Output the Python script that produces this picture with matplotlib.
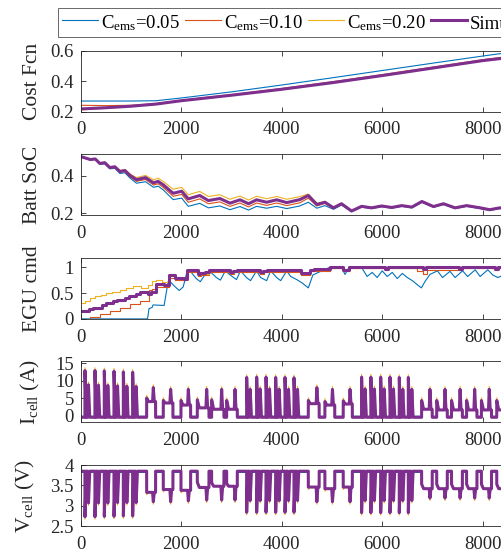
import matplotlib
matplotlib.use("Agg")
import matplotlib.pyplot as plt
from matplotlib.lines import Line2D

plt.rcParams["font.family"] = "Liberation Serif"
plt.rcParams["mathtext.fontset"] = "custom"
plt.rcParams["mathtext.rm"] = "Liberation Serif"
plt.rcParams["mathtext.it"] = "Liberation Serif:italic"

# series: blue, red, yellow, simulation
labels = [r"C$_{\rm ems}$=0.05", r"C$_{\rm ems}$=0.10", r"C$_{\rm ems}$=0.20", "Simulation"]
colors = ["#0072BD", "#D95319", "#EDB120", "#7E2F8E"]

# cost function
cost_t = [0, 500, 1000, 1500, 2000, 3000, 4000, 5000, 6000, 7000, 8000, 8600]
cost_b = [0.27, 0.27, 0.27, 0.272, 0.29, 0.33, 0.375, 0.422, 0.47, 0.518, 0.565, 0.592]
cost_r = [0.242, 0.24, 0.242, 0.253, 0.275, 0.312, 0.352, 0.396, 0.443, 0.492, 0.541, 0.566]
cost_y = [0.212, 0.222, 0.234, 0.25, 0.272, 0.307, 0.346, 0.389, 0.436, 0.485, 0.534, 0.557]
cost_s = [0.218, 0.226, 0.236, 0.25, 0.272, 0.308, 0.347, 0.39, 0.437, 0.486, 0.535, 0.558]

# battery state of charge
soc_t = [0, 190, 290, 380, 480, 580, 680, 780, 880, 980,
         1110, 1290, 1450, 1540, 1640, 1840, 2010, 2140, 2370, 2540,
         2770, 2970, 3170, 3340, 3500, 3700, 3900, 4100, 4360, 4530,
         4700, 4860, 5030, 5190, 5390, 5590, 5790, 5990, 6190, 6390,
         6590, 6790, 7020, 7220, 7450, 7680, 7950, 8140, 8340, 8600]
soc_s = [0.503, 0.487, 0.49, 0.466, 0.47, 0.444, 0.448, 0.423, 0.428, 0.402,
         0.379, 0.39, 0.362, 0.37, 0.352, 0.306, 0.317, 0.276, 0.294, 0.267,
         0.278, 0.253, 0.271, 0.25, 0.271, 0.258, 0.271, 0.256, 0.272, 0.294,
         0.246, 0.258, 0.228, 0.25, 0.211, 0.236, 0.228, 0.238, 0.23, 0.24,
         0.232, 0.262, 0.235, 0.25, 0.228, 0.24, 0.228, 0.218, 0.228, 0.222]
soc_y = [0.503, 0.488, 0.491, 0.468, 0.472, 0.447, 0.451, 0.428, 0.433, 0.41,
         0.39, 0.402, 0.378, 0.387, 0.37, 0.328, 0.338, 0.298, 0.316, 0.289,
         0.298, 0.274, 0.291, 0.27, 0.29, 0.277, 0.289, 0.274, 0.288, 0.302,
         0.252, 0.262, 0.23, 0.252, 0.212, 0.237, 0.229, 0.239, 0.231, 0.241,
         0.233, 0.263, 0.236, 0.251, 0.229, 0.241, 0.229, 0.219, 0.229, 0.223]
soc_r = [0.503, 0.486, 0.489, 0.464, 0.468, 0.441, 0.445, 0.418, 0.423, 0.395,
         0.37, 0.38, 0.35, 0.357, 0.338, 0.29, 0.30, 0.258, 0.276, 0.25,
         0.26, 0.236, 0.254, 0.233, 0.254, 0.241, 0.254, 0.24, 0.255, 0.28,
         0.238, 0.252, 0.225, 0.247, 0.209, 0.234, 0.226, 0.236, 0.228, 0.238,
         0.23, 0.26, 0.233, 0.248, 0.226, 0.238, 0.226, 0.216, 0.226, 0.22]
soc_b = [0.503, 0.485, 0.487, 0.461, 0.464, 0.437, 0.44, 0.412, 0.416, 0.388,
         0.36, 0.368, 0.338, 0.344, 0.325, 0.272, 0.28, 0.236, 0.252, 0.228,
         0.238, 0.218, 0.235, 0.216, 0.236, 0.226, 0.236, 0.224, 0.238, 0.258,
         0.226, 0.24, 0.22, 0.243, 0.207, 0.232, 0.224, 0.234, 0.226, 0.236,
         0.228, 0.258, 0.231, 0.246, 0.224, 0.236, 0.224, 0.214, 0.224, 0.218]

# EGU command (staircase, except blue)
egu_s_t = [0, 160, 240, 420, 500, 650, 720, 880, 960, 1100,
           1180, 1330, 1400, 1500, 1660, 1760, 1880, 2060, 2120, 2330,
           2380, 2470, 2560, 2980, 3040, 3120, 3560, 3620, 3700, 4380,
           4560, 4640, 4960, 5220, 5330, 6050, 6110, 6820, 6880, 7520,
           7580, 8240, 8300, 8600]
egu_s = [0.16, 0.19, 0.22, 0.26, 0.30, 0.34, 0.37, 0.41, 0.45, 0.49,
         0.52, 0.48, 0.53, 0.68, 0.66, 0.84, 0.79, 0.78, 0.94, 0.86,
         0.88, 0.91, 0.94, 0.90, 0.92, 0.94, 0.91, 0.93, 0.94, 0.89,
         0.95, 0.97, 1.0, 0.94, 1.0, 0.97, 1.0, 0.97, 1.0, 0.97,
         1.0, 0.97, 1.0, 1.0]
egu_y_t = [0, 90, 190, 290, 400, 500, 620, 780, 900, 1050,
           1200, 1330, 1420, 1500, 1620, 1760, 1880, 2000, 2120, 2330,
           2400, 2560, 2980, 3060, 3560, 3640, 4380, 4560, 4960, 5220,
           5330, 6050, 6110, 6820, 6880, 7520, 7580, 8240, 8300, 8600]
egu_y = [0.30, 0.35, 0.40, 0.44, 0.47, 0.50, 0.53, 0.56, 0.60, 0.63,
         0.60, 0.66, 0.74, 0.76, 0.72, 0.86, 0.82, 0.80, 0.93, 0.85,
         0.87, 0.93, 0.89, 0.93, 0.90, 0.93, 0.88, 0.94, 0.99, 0.93,
         0.99, 0.96, 0.99, 0.96, 0.99, 0.96, 0.99, 0.96, 0.99, 0.99]
egu_r_t = [0, 190, 380, 580, 780, 980, 1180, 1350, 1420, 1500,
           1620, 1760, 1880, 2000, 2120, 2330, 2400, 2560, 2980, 3060,
           3560, 3640, 4380, 4560, 4960, 5220, 5330, 6050, 6110, 6700,
           6820, 6900, 7520, 7580, 8240, 8300, 8600]
egu_r = [0.0, 0.04, 0.10, 0.16, 0.22, 0.28, 0.34, 0.55, 0.58, 0.62,
         0.62, 0.80, 0.76, 0.75, 0.91, 0.83, 0.85, 0.91, 0.86, 0.90,
         0.87, 0.90, 0.85, 0.93, 0.98, 0.92, 0.98, 0.94, 0.98, 0.92,
         0.86, 0.94, 0.95, 0.98, 0.95, 0.98, 0.98]
egu_b_t = [0, 1330, 1360, 1420, 1440, 1660, 1740, 1800, 1880, 1960,
           2040, 2120, 2200, 2300, 2380, 2470, 2560, 2700, 2780, 2880,
           2960, 3100, 3180, 3300, 3380, 3500, 3580, 3700, 3780, 3900,
           3980, 4100, 4180, 4300, 4400, 4530, 4620, 4800, 4960, 5200,
           5260, 5340, 5600, 5700, 5800, 5900, 6000, 6100, 6200, 6300,
           6400, 6500, 6600, 6700, 6780, 6850, 6950, 7100, 7200, 7350,
           7450, 7600, 7700, 7850, 7950, 8100, 8200, 8300, 8600]
egu_b = [0.0, 0.0, 0.2, 0.22, 0.27, 0.26, 0.72, 0.70, 0.62, 0.55,
         0.62, 0.93, 0.90, 0.78, 0.72, 0.85, 0.93, 0.80, 0.75, 0.93,
         0.86, 0.76, 0.93, 0.80, 0.74, 0.93, 0.80, 0.74, 0.93, 0.80,
         0.74, 0.93, 0.82, 0.76, 0.70, 0.60, 0.85, 0.93, 1.0, 0.98,
         0.86, 1.0, 0.98, 0.82, 0.90, 0.80, 0.93, 0.82, 0.90, 0.78,
         0.88, 0.80, 0.74, 0.66, 0.60, 0.72, 0.86, 0.93, 0.80, 0.92,
         0.80, 0.93, 0.82, 0.95, 0.82, 0.95, 0.85, 0.80, 0.92]

# cell current / voltage: double pulses (tall spike + second spike)
pair_t = [85, 284, 470, 663, 849, 1034, 3303, 3502, 3688, 3880, 4066, 4245,
          5590, 5775, 5970, 6155, 6340, 6520]
pair_i1 = [12.9, 12.9, 12.8, 12.7, 12.5, 12.4, 10.9, 11.0, 11.0, 10.9, 10.9, 10.8,
           11.0, 11.0, 11.0, 11.0, 10.9, 10.9]
pair_i2 = [8.8, 8.7, 8.6, 8.5, 8.4, 8.3, 7.5, 7.6, 7.6, 7.5, 7.5, 7.5,
           7.6, 7.6, 7.6, 7.6, 7.5, 7.5]
pair_v1 = [2.73, 2.73, 2.74, 2.74, 2.75, 2.75, 2.84, 2.84, 2.84, 2.84, 2.84, 2.84,
           2.83, 2.83, 2.83, 2.83, 2.83, 2.83]
pair_v2 = [3.07, 3.07, 3.07, 3.08, 3.08, 3.08, 3.13, 3.13, 3.13, 3.13, 3.13, 3.13,
           3.13, 3.13, 3.13, 3.13, 3.13, 3.13]

# blocks: plateau from start to a spike at its end
blk_t0 = [1313, 1644, 1996, 2321, 2606, 2905, 4530, 4860, 5225, 6785, 7085, 7380, 7680, 7975, 8280]
blk_ts = [1445, 1790, 2142, 2507, 2805, 3071, 4700, 5010, 5360, 6950, 7250, 7550, 7840, 8130, 8440]
blk_i0 = [5.0, 4.3, 4.3, 4.5, 4.5, 4.3, 4.3, 4.0, 4.2, 4.3, 4.3, 4.3, 4.3, 4.3, 4.3]
blk_i = [4.0, 3.6, 3.0, 2.2, 1.8, 1.8, 3.4, 3.0, 3.3, 1.8, 1.6, 1.6, 1.6, 1.6, 1.6]
blk_ispk = [8.0, 7.5, 7.5, 7.5, 7.5, 7.5, 8.0, 7.5, 7.5, 7.5, 7.5, 7.5, 7.5, 7.5, 7.5]
blk_v0 = [3.33, 3.40, 3.38, 3.58, 3.57, 3.55, 3.46, 3.42, 3.46, 3.53, 3.53, 3.53, 3.53, 3.53, 3.53]
blk_v = [3.33, 3.40, 3.38, 3.45, 3.48, 3.48, 3.46, 3.42, 3.46, 3.42, 3.42, 3.42, 3.42, 3.42, 3.42]
blk_vspk = [3.10, 3.10, 3.12, 3.14, 3.14, 3.14, 3.10, 3.10, 3.10, 3.19, 3.19, 3.19, 3.19, 3.19, 3.19]

# per-series rest level and extra reach of spike tips
i_rest = [-0.2, -0.5, -0.6, -0.5]
i_tip = [0.0, 0.3, 0.8, 0.0]
v_rest = [3.82, 3.85, 3.86, 3.85]
v_tip = [0.0, -0.02, -0.06, 0.0]


def pulse_curve(rest, tip, p1, p2, b0, b1, bspk):
    pts = [(0, rest)]
    for t, a, b in zip(pair_t, p1, p2):
        pts += [(t - 1, rest), (t, a + tip), (t + 25, rest),
                (t + 55, rest), (t + 70, b + tip), (t + 95, rest)]
    for t0, ts, a, b, c in zip(blk_t0, blk_ts, b0, b1, bspk):
        pts += [(t0 - 1, rest), (t0, a + tip), (t0 + 40, b), (ts - 15, b),
                (ts, c + tip), (ts + 20, b), (ts + 45, b), (ts + 46, rest)]
    pts.append((8700, rest))
    pts.sort()
    return [p[0] for p in pts], [p[1] for p in pts]


fig = plt.figure(figsize=(5.01, 5.55), dpi=100)
W, H = 501.0, 555.0
axes = []
for i in range(5):
    top = 50.7 + 103.6 * i
    ax = fig.add_axes([80.7 / W, 1 - (top + 61) / H, 502.5 / W, 61 / H])
    axes.append(ax)

thin = 0.8
thick = 2.2

ax = axes[0]
for vals, c in zip([cost_b, cost_r, cost_y], colors[:3]):
    ax.plot(cost_t, vals, color=c, lw=thin)
ax.plot(cost_t, cost_s, color=colors[3], lw=thick)
ax.set_ylim(0.2, 0.6)
ax.set_yticks([0.2, 0.4, 0.6])
ax.set_yticklabels(["0.2", "0.4", "0.6"])
ax.set_ylabel("Cost Fcn")

ax = axes[1]
for vals, c in zip([soc_b, soc_r, soc_y], colors[:3]):
    ax.plot(soc_t, vals, color=c, lw=thin)
ax.plot(soc_t, soc_s, color=colors[3], lw=thick)
ax.set_ylim(0.188, 0.515)
ax.set_yticks([0.2, 0.4])
ax.set_yticklabels(["0.2", "0.4"])
ax.set_ylabel("Batt SoC")

ax = axes[2]
ax.plot(egu_b_t, egu_b, color=colors[0], lw=thin)
ax.plot(egu_r_t, egu_r, color=colors[1], lw=thin, drawstyle="steps-post")
ax.plot(egu_y_t, egu_y, color=colors[2], lw=thin, drawstyle="steps-post")
ax.plot(egu_s_t, egu_s, color=colors[3], lw=thick, drawstyle="steps-post")
ax.set_ylim(0, 1.18)
ax.set_yticks([0, 0.5, 1])
ax.set_yticklabels(["0", "0.5", "1"])
ax.set_ylabel("EGU cmd")

ax = axes[3]
for k in range(4):
    tt, vv = pulse_curve(i_rest[k], i_tip[k], pair_i1, pair_i2, blk_i0, blk_i, blk_ispk)
    ax.plot(tt, vv, color=colors[k], lw=thick if k == 3 else thin)
ax.set_ylim(-2, 15.5)
ax.set_yticks([0, 5, 10, 15])
ax.set_ylabel(r"I$_{\rm cell}$ (A)")

ax = axes[4]
for k in range(4):
    tt, vv = pulse_curve(v_rest[k], v_tip[k], pair_v1, pair_v2, blk_v0, blk_v, blk_vspk)
    ax.plot(tt, vv, color=colors[k], lw=thick if k == 3 else thin)
ax.set_ylim(2.5, 4)
ax.set_yticks([2.5, 3, 3.5, 4])
ax.set_yticklabels(["2.5", "3", "3.5", "4"])
ax.set_ylabel(r"V$_{\rm cell}$ (V)")

label_x = [-0.077, -0.077, -0.077, -0.077, -0.087]
for ax, lx in zip(axes, label_x):
    ax.set_xlim(0, 10000)
    ax.set_xticks([0, 2000, 4000, 6000, 8000, 10000])
    ax.tick_params(direction="in", length=3.5, width=0.6, top=True, right=True,
                   colors="#262626", labelsize=13.5)
    ax.tick_params(axis="x", pad=7)
    ax.tick_params(axis="y", pad=5)
    for s in ax.spines.values():
        s.set_color("#262626")
        s.set_linewidth(0.6)
    ax.yaxis.label.set_size(15.5)
    ax.yaxis.label.set_color("#262626")
    ax.yaxis.set_label_coords(lx, 0.5)

handles = [Line2D([], [], color=colors[k], lw=thick if k == 3 else thin) for k in range(4)]
leg = fig.legend(handles, labels, loc="upper left", bbox_to_anchor=(58 / W, 1 - 8 / H),
                 ncol=4, frameon=True, fancybox=False, edgecolor="#262626",
                 handlelength=1.9, handleheight=1.3, handletextpad=0.15,
                 columnspacing=0.3, borderpad=0.22, borderaxespad=0, fontsize=13.5)
leg.get_frame().set_linewidth(0.6)

fig.savefig("out.png", dpi=100)
